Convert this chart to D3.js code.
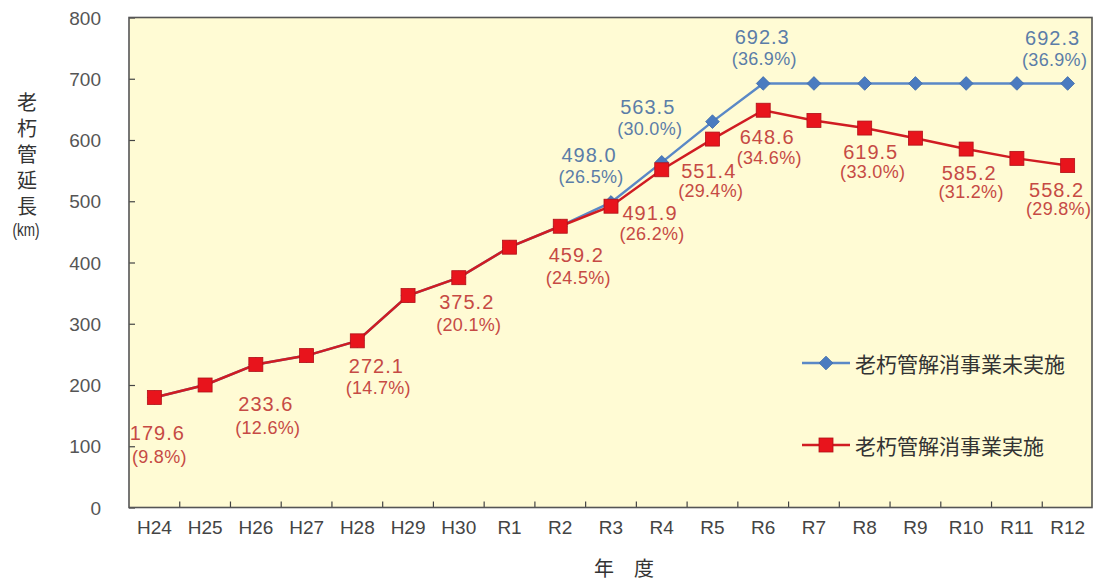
<!DOCTYPE html>
<html>
<head>
<meta charset="utf-8">
<script src="https://cdn.jsdelivr.net/npm/d3@7/dist/d3.min.js"></script>
<style>
  html, body { margin: 0; padding: 0; background: #ffffff; }
  svg { display: block; }
  text { font-family: "Liberation Sans", Arial, "Noto Sans CJK JP", sans-serif; }
  .jp { font-family: "Noto Sans CJK JP", sans-serif; }
</style>
</head>
<body>
<div id="chart"></div>
<script>
// Fiscal years
const categories = ["H24","H25","H26","H27","H28","H29","H30","R1","R2","R3",
                    "R4","R5","R6","R7","R8","R9","R10","R11","R12"];

// Length of aged pipes (km) without renewal works
const withoutWorks = [179.6, 200, 233.6, 248, 272.1, 346, 375.2, 425, 459.2, 498.0,
                      563.5, 630, 692.3, 692.3, 692.3, 692.3, 692.3, 692.3, 692.3];

// Length of aged pipes (km) with renewal works
const withWorks = [179.6, 200, 233.6, 248, 272.1, 346, 375.2, 425, 459.2, 491.9,
                   551.4, 601.5, 648.6, 632, 619.5, 603, 585.2, 570, 558.2];

// Labelled points and their ratios (%)
const withoutLabelIdx = [9, 10, 12, 18];
const withoutPct = [26.5, 30.0, 36.9, 36.9];
const withLabelIdx = [0, 2, 4, 6, 8, 9, 10, 12, 14, 16, 18];
const withPct = [9.8, 12.6, 14.7, 20.1, 24.5, 26.2, 29.4, 34.6, 33.0, 31.2, 29.8];

// Axis ticks
const yTicks = [0, 100, 200, 300, 400, 500, 600, 700, 800];

const seriesNames = ["老朽管解消事業未実施", "老朽管解消事業実施"];

const W = 1093, H = 580;
const plot = { left: 129, right: 1093, top: 17.5, bottom: 507.5 };

const svg = d3.select("#chart").append("svg").attr("width", W).attr("height", H);

const x = d3.scaleBand().domain(categories).range([plot.left, plot.right]).paddingInner(0).paddingOuter(0);
const y = d3.scaleLinear().domain([0, 800]).range([plot.bottom, plot.top]);
const cx = d => x(d) + x.bandwidth() / 2;

// plot background
svg.append("rect")
  .attr("x", plot.left).attr("y", plot.top)
  .attr("width", plot.right - plot.left).attr("height", plot.bottom - plot.top)
  .attr("fill", "#fffbd4");

// y axis: ticks inside the frame, labels outside
const yAxis = d3.axisLeft(y).tickValues(yTicks).tickSize(-6).tickPadding(28).tickFormat(d3.format("d"));
const gy = svg.append("g").attr("transform", `translate(${plot.left},0)`).call(yAxis);
gy.select(".domain").remove();
gy.selectAll(".tick line").attr("stroke", "#444").attr("stroke-width", 1.2);
gy.selectAll(".tick text").attr("fill", "#555").attr("font-size", 19).attr("dy", "0.35em");

// x axis: ticks at band boundaries pointing up
const xAxis = d3.axisBottom(x).tickSize(0).tickPadding(13);
const gx = svg.append("g").attr("transform", `translate(0,${plot.bottom})`).call(xAxis);
gx.select(".domain").remove();
gx.selectAll(".tick text").attr("fill", "#444").attr("font-size", 19);
svg.append("g").selectAll("line")
  .data(categories.slice(1))
  .join("line")
  .attr("x1", d => x(d)).attr("x2", d => x(d))
  .attr("y1", plot.bottom).attr("y2", plot.bottom - 6)
  .attr("stroke", "#444").attr("stroke-width", 1.2);

// frame
svg.append("rect")
  .attr("x", plot.left).attr("y", plot.top)
  .attr("width", plot.right - plot.left - 1).attr("height", plot.bottom - plot.top)
  .attr("fill", "none").attr("stroke", "#555").attr("stroke-width", 1.6);

// axis titles
svg.append("text")
  .attr("class", "jp")
  .attr("x", 27).attr("y", 92)
  .attr("writing-mode", "vertical-rl")
  .attr("letter-spacing", 6)
  .attr("font-size", 20).attr("fill", "#333")
  .text("老朽管延長");
svg.append("text")
  .attr("x", 26).attr("y", 229)
  .attr("text-anchor", "middle").attr("dominant-baseline", "central")
  .attr("font-size", 19).attr("fill", "#333")
  .attr("textLength", 27).attr("lengthAdjust", "spacingAndGlyphs")
  .text("(km)");
svg.append("text")
  .attr("class", "jp")
  .attr("x", 624).attr("y", 567)
  .attr("text-anchor", "middle").attr("dominant-baseline", "central")
  .attr("font-size", 20).attr("fill", "#333")
  .text("年　度");

const blue = "#4a7bc0", red = "#e8141c";
const line = d3.line().x((d, i) => cx(categories[i])).y(d => y(d));

// series without works (blue, diamonds)
svg.append("path").datum(withoutWorks)
  .attr("d", line).attr("fill", "none").attr("stroke", "#5a88c6").attr("stroke-width", 2.5);
svg.append("g").selectAll("path")
  .data(withoutWorks)
  .join("path")
  .attr("d", d3.symbol(d3.symbolDiamond2, 120))
  .attr("transform", (d, i) => `translate(${cx(categories[i])},${y(d)})`)
  .attr("fill", blue).attr("stroke", "#3e6aa8").attr("stroke-width", 0.8);

// series with works (red, squares)
svg.append("path").datum(withWorks)
  .attr("d", line).attr("fill", "none").attr("stroke", "#d01c22").attr("stroke-width", 2.5);
svg.append("g").selectAll("rect")
  .data(withWorks)
  .join("rect")
  .attr("x", (d, i) => cx(categories[i]) - 7).attr("y", d => y(d) - 7)
  .attr("width", 14).attr("height", 14)
  .attr("fill", red).attr("stroke", "#b01018").attr("stroke-width", 0.8);

// data labels (value and ratio), offsets relative to the point: [dx, dy value, dy ratio]
const withoutOffsets = { 9: [-22, -47, -25], 10: [-14, -55, -33], 12: [-1, -46, -24], 18: [-15, -45, -23] };
const withOffsets = {
  0: [3, 36, 60], 2: [10, 40, 64], 4: [19, 25, 47], 6: [8, 24, 47], 8: [16, 29, 52],
  9: [39, 7, 28], 10: [47, 1, 21], 12: [4, 27, 48], 14: [6, 24, 44], 16: [3, 24, 43], 18: [-11, 24, 43]
};

function drawLabels(idxs, pcts, values, offsets, color) {
  const g = svg.append("g");
  idxs.forEach((idx, k) => {
    const px = cx(categories[idx]), py = y(values[idx]);
    const [dx, dyV, dyP] = offsets[idx];
    g.append("text")
      .attr("x", px + dx).attr("y", py + dyV)
      .attr("text-anchor", "middle").attr("dominant-baseline", "central")
      .attr("font-size", 20).attr("fill", color).attr("letter-spacing", 1)
      .text(d3.format(".1f")(values[idx]));
    g.append("text")
      .attr("x", px + dx + 2).attr("y", py + dyP)
      .attr("text-anchor", "middle").attr("dominant-baseline", "central")
      .attr("font-size", 18).attr("fill", color).attr("letter-spacing", 0.3)
      .text(`(${d3.format(".1f")(pcts[k])}%)`);
  });
}
drawLabels(withoutLabelIdx, withoutPct, withoutWorks, withoutOffsets, "#5b7da8");
drawLabels(withLabelIdx, withPct, withWorks, withOffsets, "#c64a44");

// legend
const legend = svg.append("g");
const legendRows = [
  { name: seriesNames[0], y: 363, color: "#5a88c6", marker: "diamond" },
  { name: seriesNames[1], y: 445, color: "#d01c22", marker: "square" }
];
legendRows.forEach(r => {
  legend.append("line")
    .attr("x1", 802).attr("x2", 850).attr("y1", r.y).attr("y2", r.y)
    .attr("stroke", r.color).attr("stroke-width", 2.5);
  if (r.marker === "diamond") {
    legend.append("path")
      .attr("d", d3.symbol(d3.symbolDiamond2, 120))
      .attr("transform", `translate(826,${r.y})`)
      .attr("fill", blue).attr("stroke", "#3e6aa8").attr("stroke-width", 0.8);
  } else {
    legend.append("rect")
      .attr("x", 819).attr("y", r.y - 7).attr("width", 14).attr("height", 14)
      .attr("fill", red).attr("stroke", "#b01018").attr("stroke-width", 0.8);
  }
  legend.append("text")
    .attr("class", "jp")
    .attr("x", 855).attr("y", r.y)
    .attr("dominant-baseline", "central")
    .attr("font-size", 21).attr("fill", "#333")
    .text(r.name);
});
</script>
</body>
</html>
